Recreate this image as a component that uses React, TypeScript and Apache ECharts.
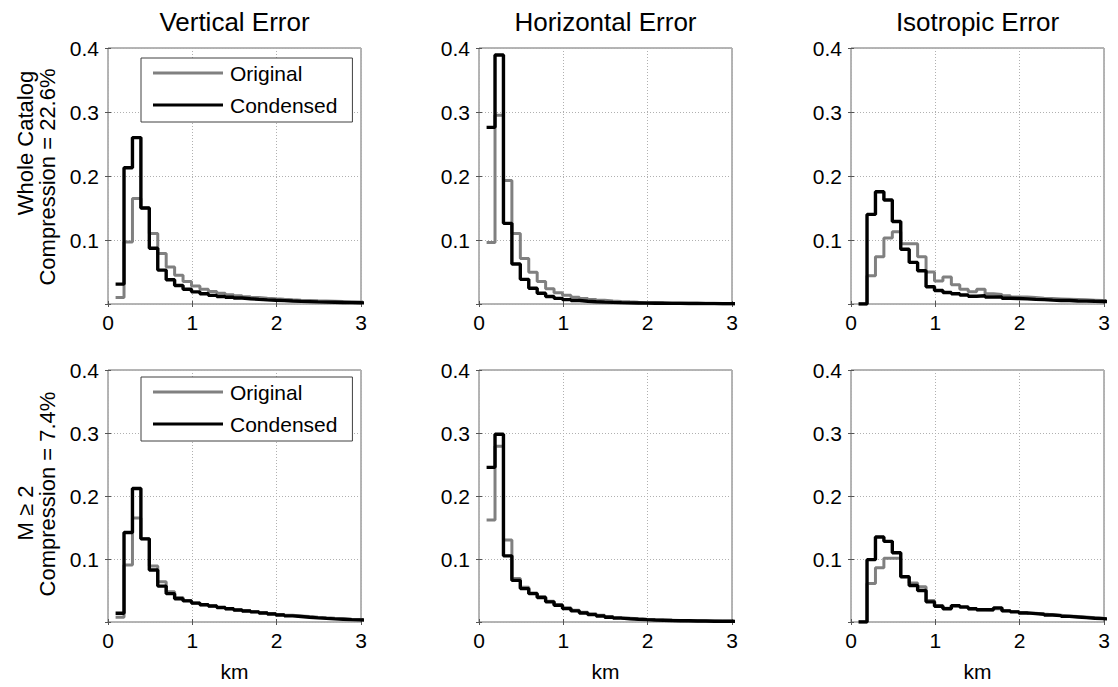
import React, { useEffect, useRef } from "react";
import * as echarts from "echarts";

// ---- data ----
const binEdges = [
  0.09, 0.19, 0.29, 0.39, 0.49, 0.59, 0.69, 0.79, 0.89, 0.99,
  1.09, 1.19, 1.29, 1.39, 1.49, 1.59, 1.69, 1.79, 1.89, 1.99,
  2.09, 2.19, 2.29, 2.39, 2.49, 2.59, 2.69, 2.79, 2.89, 2.99, 3.09,
];

const panelTitles = ["Vertical Error", "Horizontal Error", "Isotropic Error"];
const rowLabelLines = [
  ["Whole Catalog", "Compression = 22.6%"],
  ["M ≥ 2", "Compression = 7.4%"],
];
const seriesNames = ["Original", "Condensed"];
const xTickValues = [0, 1, 2, 3];
const yTickValues = [0.1, 0.2, 0.3, 0.4];

// Whole catalog
const vertWholeOriginal = [0.010, 0.097, 0.165, 0.150, 0.110, 0.079, 0.058, 0.045, 0.035, 0.028, 0.023, 0.0195, 0.0168, 0.0146, 0.0128, 0.0113, 0.010, 0.009, 0.0081, 0.0073, 0.0066, 0.006, 0.0055, 0.005, 0.0046, 0.0042, 0.0038, 0.0035, 0.0032, 0.003];
const vertWholeCondensed = [0.031, 0.213, 0.260, 0.150, 0.087, 0.053, 0.038, 0.029, 0.023, 0.019, 0.016, 0.0135, 0.0118, 0.0105, 0.0093, 0.0082, 0.0073, 0.0065, 0.0058, 0.0052, 0.0046, 0.0041, 0.0037, 0.0033, 0.003, 0.0027, 0.0024, 0.0021, 0.0019, 0.0017];
const horzWholeOriginal = [0.096, 0.295, 0.193, 0.110, 0.071, 0.0495, 0.035, 0.024, 0.0175, 0.0135, 0.0105, 0.0085, 0.007, 0.0058, 0.0048, 0.004, 0.0034, 0.0029, 0.0025, 0.0022, 0.0019, 0.0017, 0.0015, 0.0013, 0.0012, 0.0011, 0.001, 0.0009, 0.0008, 0.0008];
const horzWholeCondensed = [0.276, 0.389, 0.126, 0.0625, 0.0385, 0.0245, 0.0167, 0.0118, 0.0088, 0.0068, 0.0054, 0.0044, 0.0036, 0.003, 0.0025, 0.0021, 0.0018, 0.0016, 0.0014, 0.0012, 0.0011, 0.001, 0.0009, 0.0008, 0.0007, 0.0006, 0.0006, 0.0005, 0.0005, 0.0004];
const isoWholeOriginal = [0, 0.044, 0.074, 0.103, 0.113, 0.094, 0.094, 0.074, 0.050, 0.036, 0.042, 0.030, 0.023, 0.019, 0.023, 0.016, 0.015, 0.013, 0.011, 0.011, 0.010, 0.009, 0.0085, 0.008, 0.0075, 0.007, 0.0065, 0.006, 0.0055, 0.005];
const isoWholeCondensed = [0, 0.140, 0.1755, 0.1625, 0.129, 0.0855, 0.065, 0.052, 0.027, 0.021, 0.018, 0.016, 0.014, 0.012, 0.013, 0.011, 0.011, 0.009, 0.0085, 0.008, 0.0072, 0.0068, 0.006, 0.0055, 0.0055, 0.0048, 0.0045, 0.0042, 0.004, 0.0036];

// M >= 2
const vertM2Original = [0.0074, 0.0905, 0.165, 0.132, 0.089, 0.064, 0.048, 0.039, 0.034, 0.030, 0.0275, 0.0254, 0.023, 0.021, 0.0192, 0.0177, 0.0162, 0.0147, 0.0133, 0.012, 0.0108, 0.0097, 0.0086, 0.0076, 0.0067, 0.0059, 0.0052, 0.0045, 0.004, 0.0035];
const vertM2Condensed = [0.0138, 0.142, 0.212, 0.132, 0.0825, 0.057, 0.045, 0.037, 0.0335, 0.030, 0.0275, 0.0254, 0.023, 0.021, 0.019, 0.0175, 0.016, 0.0143, 0.0127, 0.011, 0.0098, 0.0087, 0.0076, 0.0066, 0.0057, 0.005, 0.0044, 0.0038, 0.0033, 0.0028];
const horzM2Original = [0.162, 0.279, 0.130, 0.069, 0.055, 0.046, 0.040, 0.033, 0.0275, 0.0225, 0.0188, 0.0156, 0.013, 0.0108, 0.0088, 0.0072, 0.006, 0.005, 0.0043, 0.0037, 0.0032, 0.0028, 0.0024, 0.0021, 0.0019, 0.0017, 0.0015, 0.0013, 0.0012, 0.0011];
const horzM2Condensed = [0.2455, 0.298, 0.105, 0.066, 0.053, 0.045, 0.039, 0.032, 0.0266, 0.0213, 0.0176, 0.0144, 0.0117, 0.0096, 0.0076, 0.0062, 0.0051, 0.0043, 0.0037, 0.0032, 0.0028, 0.0024, 0.0021, 0.0019, 0.0017, 0.0015, 0.0013, 0.0012, 0.0011, 0.001];
const isoM2Original = [0, 0.061, 0.086, 0.101, 0.101, 0.071, 0.062, 0.056, 0.034, 0.026, 0.022, 0.025, 0.023, 0.021, 0.0195, 0.019, 0.021, 0.018, 0.0165, 0.015, 0.0138, 0.0127, 0.0117, 0.0107, 0.0097, 0.0087, 0.0078, 0.0069, 0.006, 0.0052];
const isoM2Condensed = [0, 0.099, 0.135, 0.128, 0.110, 0.072, 0.058, 0.050, 0.032, 0.025, 0.021, 0.026, 0.024, 0.021, 0.0195, 0.0195, 0.0225, 0.0176, 0.016, 0.0144, 0.0133, 0.0122, 0.011, 0.0102, 0.009, 0.008, 0.007, 0.006, 0.0053, 0.0045];

const panelData = [
  [vertWholeOriginal, vertWholeCondensed],
  [horzWholeOriginal, horzWholeCondensed],
  [isoWholeOriginal, isoWholeCondensed],
  [vertM2Original, vertM2Condensed],
  [horzM2Original, horzM2Condensed],
  [isoM2Original, isoM2Condensed],
];

// ---- layout / style ----
const FONT = '"Liberation Sans", Arial, Helvetica, sans-serif';
const COL_LEFTS = [108, 479, 851];
const ROW_TOPS = [48, 370];
const ROW_HEIGHTS = [256, 252];
const PANEL_W = 253;
const GRAY = "#808080";
const BLACK = "#000000";
const GRAY_W = 3;
const BLACK_W = 3.4;

function toSteps(values: number[]) {
  return binEdges.map((x, i) => [x, values[Math.min(i, values.length - 1)]]);
}

function buildOption() {
  const grid: any[] = [];
  const xAxis: any[] = [];
  const yAxis: any[] = [];
  const series: any[] = [];
  const title: any[] = [];

  for (let r = 0; r < 2; r++) {
    for (let c = 0; c < 3; c++) {
      const i = r * 3 + c;
      grid.push({
        left: COL_LEFTS[c],
        top: ROW_TOPS[r],
        width: PANEL_W,
        height: ROW_HEIGHTS[r],
        show: true,
        borderColor: "#6a6a6a",
        borderWidth: 1,
        backgroundColor: "transparent",
      });
      xAxis.push({
        gridIndex: i,
        type: "value",
        position: "bottom",
        min: xTickValues[0],
        max: xTickValues[xTickValues.length - 1],
        interval: 1,
        axisLine: { show: false },
        axisTick: { show: true, inside: true, length: 3, lineStyle: { color: "#555" } },
        axisLabel: {
          color: "#000",
          fontSize: 21,
          fontFamily: FONT,
          margin: 8,
        },
        splitLine: { show: true, lineStyle: { color: "#b0b0b0", type: [1, 2], width: 1 } },
        name: r === 1 ? "km" : "",
        nameLocation: "middle",
        nameGap: 39,
        nameTextStyle: { color: "#000", fontSize: 21, fontFamily: FONT },
      });
      xAxis.push({
        gridIndex: i,
        type: "value",
        position: "top",
        min: xTickValues[0],
        max: xTickValues[xTickValues.length - 1],
        interval: 1,
        axisLine: { show: false },
        axisTick: { show: true, inside: true, length: 3, lineStyle: { color: "#555" } },
        axisLabel: { show: false },
        splitLine: { show: false },
      });
      yAxis.push({
        gridIndex: i,
        type: "value",
        position: "left",
        min: 0,
        max: yTickValues[yTickValues.length - 1],
        interval: 0.1,
        axisLine: { show: false },
        axisTick: { show: true, inside: true, length: 3, lineStyle: { color: "#555" } },
        axisLabel: {
          color: "#000",
          fontSize: 21,
          fontFamily: FONT,
          margin: 9,
          formatter: (v: number) => (v === 0 ? "" : v.toFixed(1)),
        },
        splitLine: { show: true, lineStyle: { color: "#b0b0b0", type: [1, 2], width: 1 } },
      });
      yAxis.push({
        gridIndex: i,
        type: "value",
        position: "right",
        min: 0,
        max: yTickValues[yTickValues.length - 1],
        interval: 0.1,
        axisLine: { show: false },
        axisTick: { show: true, inside: true, length: 3, lineStyle: { color: "#555" } },
        axisLabel: { show: false },
        splitLine: { show: false },
      });

      const [orig, cond] = panelData[i];
      series.push({
        type: "line",
        name: seriesNames[0],
        xAxisIndex: 2 * i,
        yAxisIndex: 2 * i,
        data: toSteps(orig),
        step: "end",
        symbol: "none",
        showSymbol: false,
        lineStyle: { color: GRAY, width: GRAY_W },
        itemStyle: { color: GRAY },
        z: 2,
      });
      series.push({
        type: "line",
        name: seriesNames[1],
        xAxisIndex: 2 * i,
        yAxisIndex: 2 * i,
        data: toSteps(cond),
        step: "end",
        symbol: "none",
        showSymbol: false,
        lineStyle: { color: BLACK, width: BLACK_W },
        itemStyle: { color: BLACK },
        z: 3,
      });
    }
  }

  for (let c = 0; c < 3; c++) {
    title.push({
      text: panelTitles[c],
      left: COL_LEFTS[c] + PANEL_W / 2,
      top: 9,
      textAlign: "center",
      padding: 0,
      textStyle: { color: "#000", fontSize: 26, fontWeight: "normal", fontFamily: FONT },
    });
  }

  const legendBase = {
    orient: "vertical",
    left: 141,
    icon: "rect",
    itemWidth: 70,
    itemHeight: 3,
    itemGap: 10,
    padding: [4, 15, 6, 12],
    borderColor: "#404040",
    borderWidth: 1,
    backgroundColor: "#ffffff",
    selectedMode: false,
    textStyle: { color: "#000", fontSize: 21, fontFamily: FONT, lineHeight: 22, padding: [0, 0, 0, 2] },
    data: [
      { name: seriesNames[0], itemStyle: { color: GRAY } },
      { name: seriesNames[1], itemStyle: { color: BLACK } },
    ],
  };
  const legend = [
    { ...legendBase, top: 58 },
    { ...legendBase, top: 377 },
  ];

  const labelFont = `22px ${FONT}`;
  const mkLabel = (text: string, x: number, y: number) => ({
    type: "text",
    x,
    y,
    rotation: Math.PI / 2,
    style: {
      text,
      font: labelFont,
      fill: "#000",
      align: "center",
      verticalAlign: "middle",
      textAlign: "center",
      textVerticalAlign: "middle",
    },
  });
  const graphic = [
    mkLabel(rowLabelLines[0][0], 25, 143),
    mkLabel(rowLabelLines[0][1], 47, 177),
    mkLabel(rowLabelLines[1][0], 25, 513),
    mkLabel(rowLabelLines[1][1], 47, 494),
  ];

  return {
    animation: false,
    backgroundColor: "#ffffff",
    title,
    legend,
    grid,
    xAxis,
    yAxis,
    series,
    graphic,
  };
}

export default function App() {
  const ref = useRef<HTMLDivElement>(null);
  useEffect(() => {
    if (!ref.current) return;
    const chart = echarts.init(ref.current, undefined, { renderer: "svg" });
    chart.setOption(buildOption() as any);
    return () => chart.dispose();
  }, []);
  return (
    <div
      ref={ref}
      style={{ position: "fixed", left: 0, top: 0, width: 1118, height: 687, background: "#fff" }}
    />
  );
}
